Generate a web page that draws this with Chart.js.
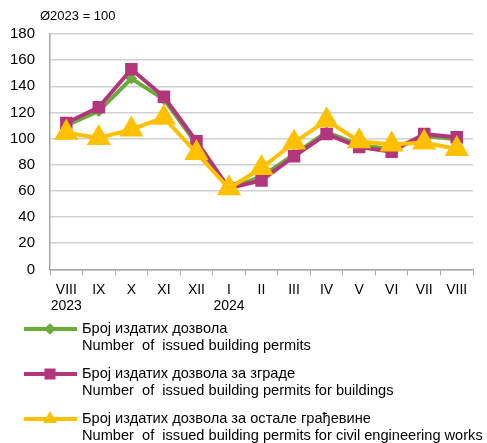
<!DOCTYPE html>
<html>
<head>
<meta charset="utf-8">
<script src="https://cdn.jsdelivr.net/npm/chart.js@4/dist/chart.umd.min.js"></script>
<style>
  html, body { margin: 0; padding: 0; background: #fff; }
  #wrap { width: 487px; height: 443px; }
</style>
</head>
<body>
<div id="wrap"><canvas id="permitsChart" width="487" height="443"></canvas></div>
<script>
const months = [['VIII', '2023'], 'IX', 'X', 'XI', 'XII', ['I', '2024'], 'II', 'III', 'IV', 'V', 'VI', 'VII', 'VIII'];

const totalPermits = [110, 121, 146, 130, 96, 62, 71, 88, 105, 95, 92, 102, 99.5];
const buildingPermits = [112, 124, 153, 132, 98, 62, 68, 86.5, 103.5, 93.5, 90, 103.5, 101];
const civilPermits = [104.5, 100.5, 107, 116, 89, 62, 77.5, 97, 114, 98, 95.5, 97, 92];

const yTicks = [0, 20, 40, 60, 80, 100, 120, 140, 160, 180];

const seriesNames = [
    ['Број издатих дозвола', 'Number  of  issued building permits'],
    ['Број издатих дозвола за зграде', 'Number  of  issued building permits for buildings'],
    ['Број издатих дозвола за остале грађевине', 'Number  of  issued building permits for civil engineering works']
];

const green = '#6aab3b';
const magenta = '#b3367d';
const yellow = '#ffc000';

// naslov iznad y ose
const topNote = {
    id: 'topNote',
    afterDraw(chart) {
        const c = chart.ctx;
        c.save();
        c.font = '13px "Liberation Sans", Arial, sans-serif';
        c.fillStyle = '#000';
        c.textBaseline = 'middle';
        c.fillText('Ø2023 = 100', 40, 16);
        c.restore();
    }
};

// legenda ispod grafikona, dve linije teksta po seriji
const bottomLegend = {
    id: 'bottomLegend',
    afterDraw(chart) {
        const c = chart.ctx;
        const items = chart.data.datasets;
        c.save();
        c.font = '14.6px "Liberation Sans", Arial, sans-serif';
        c.textBaseline = 'middle';
        items.forEach((ds, i) => {
            const y = 329 + i * 45;
            c.strokeStyle = ds.borderColor;
            c.lineWidth = 4;
            c.beginPath();
            c.moveTo(24, y);
            c.lineTo(77, y);
            c.stroke();
            Chart.helpers.drawPoint(c, {
                pointStyle: ds.pointStyle,
                radius: ds.legendRadius,
                borderWidth: 1
            }, 50, y);
            c.fillStyle = ds.borderColor;
            c.fill();
            c.fillStyle = '#000';
            c.fillText(seriesNames[i][0], 82, y);
            c.fillText(seriesNames[i][1], 82, y + 17);
        });
        c.restore();
    }
};

const ctx = document.getElementById('permitsChart').getContext('2d');

new Chart(ctx, {
    type: 'line',
    data: {
        labels: months,
        datasets: [
            {
                label: seriesNames[0][0],
                data: totalPermits,
                borderColor: green,
                backgroundColor: green,
                borderWidth: 4,
                pointStyle: 'rectRot',
                pointRadius: 3,
                legendRadius: 3,
                order: 3
            },
            {
                label: seriesNames[1][0],
                data: buildingPermits,
                borderColor: magenta,
                backgroundColor: magenta,
                borderWidth: 4,
                pointStyle: 'rect',
                pointRadius: 6,
                legendRadius: 5,
                order: 2
            },
            {
                label: seriesNames[2][0],
                data: civilPermits,
                borderColor: yellow,
                backgroundColor: yellow,
                borderWidth: 4,
                pointStyle: 'triangle',
                pointRadius: 10,
                legendRadius: 4,
                order: 1
            }
        ]
    },
    options: {
        responsive: false,
        animation: false,
        layout: { padding: { top: 34, left: -5, right: 0, bottom: 122 } },
        plugins: {
            legend: { display: false },
            tooltip: { enabled: false }
        },
        scales: {
            x: {
                offset: true,
                grid: {
                    offset: true,
                    drawOnChartArea: false,
                    drawTicks: true,
                    tickLength: 6,
                    color: '#a6a6a6'
                },
                border: { color: '#a6a6a6', width: 1.5 },
                ticks: {
                    color: '#000',
                    maxRotation: 0,
                    autoSkip: false,
                    padding: 6,
                    font: { family: '"Liberation Sans", Arial, sans-serif', size: 14 }
                }
            },
            y: {
                min: 0,
                max: 180,
                afterBuildTicks(axis) {
                    axis.ticks = yTicks.map(v => ({ value: v }));
                },
                grid: {
                    color: '#d0d0d0',
                    lineWidth: 1.5,
                    drawTicks: false
                },
                border: { color: '#a6a6a6', width: 1.5 },
                ticks: {
                    color: '#000',
                    padding: 15,
                    font: { family: '"Liberation Sans", Arial, sans-serif', size: 15 }
                }
            }
        }
    },
    plugins: [topNote, bottomLegend]
});
</script>
</body>
</html>
